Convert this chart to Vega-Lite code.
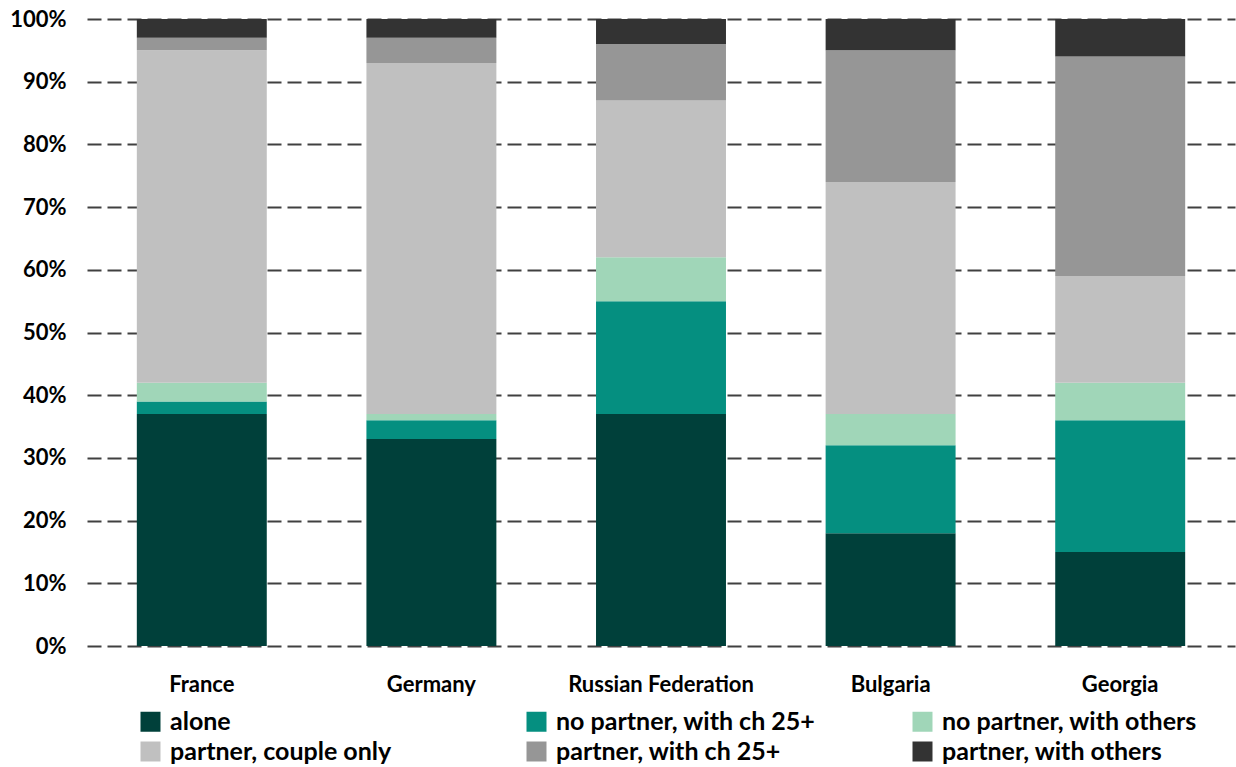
{
  "$schema": "https://vega.github.io/schema/vega-lite/v6.json",
  "autosize": "none",
  "width": 1148,
  "height": 627,
  "padding": {"left": 87, "top": 19, "right": 1, "bottom": 121},
  "background": "white",
  "config": {
    "view": {"stroke": null},
    "font": "Lato",
    "axis": {"labelFont": "Lato", "labelFontWeight": "bold", "labelColor": "#000000"},
    "legend": {"labelFont": "Lato", "labelFontWeight": "bold", "labelColor": "#000000"}
  },
  "data": {
    "values": [
      {"country": "France", "category": "alone", "k": 1, "value": 37},
      {"country": "France", "category": "no partner, with ch 25+", "k": 2, "value": 2},
      {"country": "France", "category": "no partner, with others", "k": 3, "value": 3},
      {"country": "France", "category": "partner, couple only", "k": 4, "value": 53},
      {"country": "France", "category": "partner, with ch 25+", "k": 5, "value": 2},
      {"country": "France", "category": "partner, with others", "k": 6, "value": 3},
      {"country": "Germany", "category": "alone", "k": 1, "value": 33},
      {"country": "Germany", "category": "no partner, with ch 25+", "k": 2, "value": 3},
      {"country": "Germany", "category": "no partner, with others", "k": 3, "value": 1},
      {"country": "Germany", "category": "partner, couple only", "k": 4, "value": 56},
      {"country": "Germany", "category": "partner, with ch 25+", "k": 5, "value": 4},
      {"country": "Germany", "category": "partner, with others", "k": 6, "value": 3},
      {"country": "Russian Federation", "category": "alone", "k": 1, "value": 37},
      {"country": "Russian Federation", "category": "no partner, with ch 25+", "k": 2, "value": 18},
      {"country": "Russian Federation", "category": "no partner, with others", "k": 3, "value": 7},
      {"country": "Russian Federation", "category": "partner, couple only", "k": 4, "value": 25},
      {"country": "Russian Federation", "category": "partner, with ch 25+", "k": 5, "value": 9},
      {"country": "Russian Federation", "category": "partner, with others", "k": 6, "value": 4},
      {"country": "Bulgaria", "category": "alone", "k": 1, "value": 18},
      {"country": "Bulgaria", "category": "no partner, with ch 25+", "k": 2, "value": 14},
      {"country": "Bulgaria", "category": "no partner, with others", "k": 3, "value": 5},
      {"country": "Bulgaria", "category": "partner, couple only", "k": 4, "value": 37},
      {"country": "Bulgaria", "category": "partner, with ch 25+", "k": 5, "value": 21},
      {"country": "Bulgaria", "category": "partner, with others", "k": 6, "value": 5},
      {"country": "Georgia", "category": "alone", "k": 1, "value": 15},
      {"country": "Georgia", "category": "no partner, with ch 25+", "k": 2, "value": 21},
      {"country": "Georgia", "category": "no partner, with others", "k": 3, "value": 6},
      {"country": "Georgia", "category": "partner, couple only", "k": 4, "value": 17},
      {"country": "Georgia", "category": "partner, with ch 25+", "k": 5, "value": 35},
      {"country": "Georgia", "category": "partner, with others", "k": 6, "value": 6}
    ]
  },
  "mark": {"type": "bar"},
  "encoding": {
    "x": {
      "field": "country",
      "type": "nominal",
      "sort": ["France", "Germany", "Russian Federation", "Bulgaria", "Georgia"],
      "scale": {"paddingInner": 0.434, "paddingOuter": 0.217},
      "axis": {
        "title": null,
        "labelAngle": 0,
        "domain": false,
        "ticks": false,
        "labelFontSize": 22,
        "labelPadding": 28,
        "labelLimit": 400
      }
    },
    "y": {
      "field": "value",
      "type": "quantitative",
      "stack": "zero",
      "scale": {"domain": [0, 100], "nice": false},
      "axis": {
        "title": null,
        "values": [0, 10, 20, 30, 40, 50, 60, 70, 80, 90, 100],
        "labelExpr": "datum.value + '%'",
        "domain": false,
        "ticks": false,
        "labelFontSize": 22,
        "labelPadding": 21,
        "grid": true,
        "gridColor": "#404040",
        "gridWidth": 2,
        "gridDash": [14, 6]
      }
    },
    "order": {"field": "k", "type": "quantitative"},
    "color": {
      "field": "category",
      "type": "nominal",
      "sort": ["alone", "no partner, with ch 25+", "no partner, with others", "partner, couple only", "partner, with ch 25+", "partner, with others"],
      "scale": {
        "domain": ["alone", "no partner, with ch 25+", "no partner, with others", "partner, couple only", "partner, with ch 25+", "partner, with others"],
        "range": ["#00403A", "#058F80", "#A0D6B8", "#C0C0C0", "#969696", "#333333"]
      },
      "legend": {
        "title": null,
        "orient": "none",
        "direction": "horizontal",
        "legendX": 51,
        "legendY": 690,
        "columns": 3,
        "gridAlign": "all",
        "columnPadding": 94,
        "rowPadding": 4,
        "padding": 0,
        "symbolType": "square",
        "symbolSize": 400,
        "symbolStrokeWidth": 0,
        "symbolOpacity": 1,
        "labelFontSize": 25,
        "labelOffset": 7,
        "labelLimit": 400
      }
    }
  }
}
